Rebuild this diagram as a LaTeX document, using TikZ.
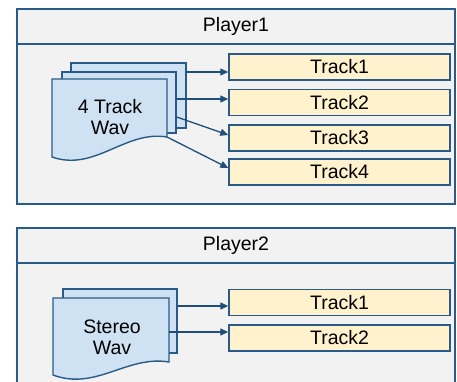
\documentclass[tikz,border=0pt]{standalone}
\usepackage{fontspec}
\setmainfont{Liberation Sans}
\usetikzlibrary{arrows.meta,calc}
\definecolor{bord}{HTML}{2A5A88}
\definecolor{panel}{HTML}{F2F2F2}
\definecolor{docfill}{HTML}{CFE2F3}
\definecolor{trackfill}{HTML}{FFF2CC}
\definecolor{arrowc}{HTML}{1F4E79}
\begin{document}
\begin{tikzpicture}[x=1pt,y=-1pt,
  lbl/.style={font=\fontsize{19.5}{21}\selectfont,text=black},
  panelbox/.style={draw=bord,fill=panel,line width=1.4pt,inner sep=0pt,minimum width=438pt},
  trackbox/.style={draw=bord,fill=trackfill,line width=1.4pt,minimum width=221pt,minimum height=26pt,inner sep=0pt,lbl},
  docbox/.style={draw=bord,fill=docfill,line width=1.4pt,inner sep=0pt},
  arr/.style={draw=arrowc,line width=1.3pt,-{Triangle[length=8pt,width=7pt]}}
]
\useasboundingbox (0,0) rectangle (457,382);
\clip (0,0) rectangle (457,382);
\fill[white] (0,0) rectangle (457,382);

% ---------- Player1 ----------
\node[panelbox,minimum height=195pt] (p1) at (236,106.5) {};
\node[panelbox,minimum height=35pt,lbl] (h1) at (236,26.5) {Player1};

\node[docbox,minimum width=115pt,minimum height=65pt] (bk1) at (128.5,95.5) {};
\node[docbox,minimum width=114pt,minimum height=61pt] (md1) at (119,102.5) {};
\draw[docbox] (52,79) -- (167,79) -- (167,137) .. controls (125,130) and (95,172) .. (52,157) -- cycle;
\coordinate (fr1) at (167,137);
\node[lbl,align=center] (w1) at (110,117) {4 Track\\Wav};

\node[trackbox] (t1) at (339.5,67) {Track1};
\node[trackbox] (t2) at (339.5,102.5) {Track2};
\node[trackbox] (t3) at (339.5,138) {Track3};
\node[trackbox] (t4) at (339.5,172) {Track4};

\coordinate (a1) at ([yshift=-5pt]t1.west);
\coordinate (a2) at ([yshift=3.5pt]t2.west);
\coordinate (a3) at ([yshift=3pt]t3.west);
\coordinate (a4) at ([yshift=4pt]t4.west);
\coordinate (s3) at ([yshift=-14.5pt]md1.east);
\draw[arr] (bk1.east |- a1) -- (a1);
\draw[arr] (md1.east |- a2) -- (a2);
\draw[arr] (s3) -- (a3);
\draw[arr] (fr1) -- (a4);

% ---------- Player2 ----------
\node[panelbox,minimum height=180pt] (p2) at (236,318) {};
\node[panelbox,minimum height=35pt,lbl] (h2) at (236,245.5) {Player2};

\node[docbox,minimum width=114pt,minimum height=64pt] (bk2) at (120,321) {};
\draw[docbox] (53,298) -- (169,298) -- (169,362) .. controls (127,355) and (96,391) .. (53,375) -- cycle;
\coordinate (fr2) at (169,362);
\node[lbl,align=center] (w2) at (112,337) {Stereo\\Wav};

\node[trackbox] (t21) at (339.5,302.5) {Track1};
\node[trackbox] (t22) at (339.5,338) {Track2};

\coordinate (b1) at ([yshift=-3.5pt]t21.west);
\coordinate (b2) at ([yshift=6pt]t22.west);
\draw[arr] (bk2.east |- b1) -- (b1);
\draw[arr] (fr2 |- b2) -- (b2);
\end{tikzpicture}
\end{document}
